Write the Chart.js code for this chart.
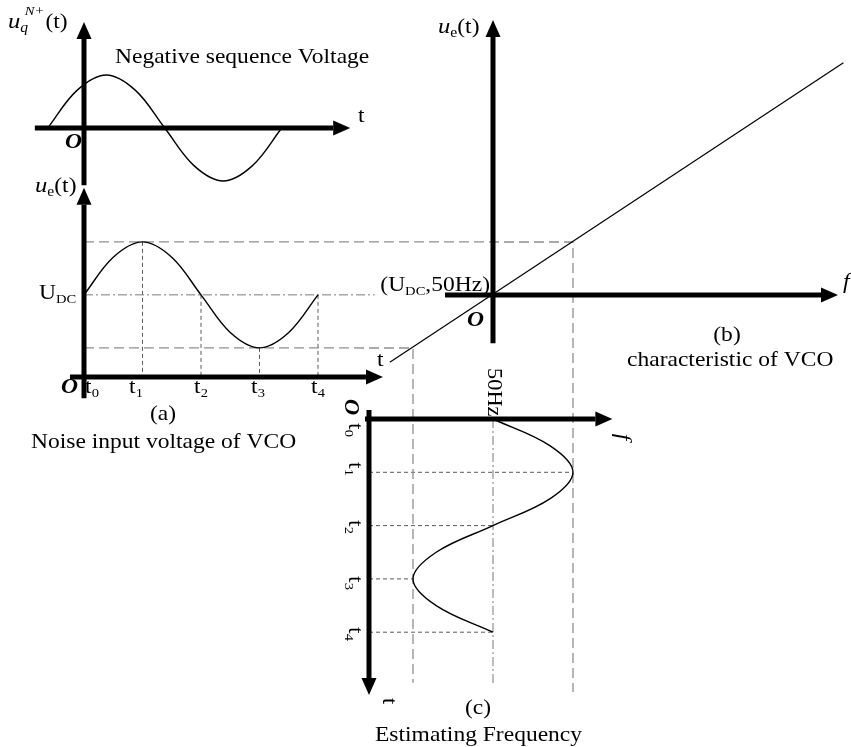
<!DOCTYPE html>
<html>
<head>
<meta charset="utf-8">
<script src="https://cdn.jsdelivr.net/npm/chart.js@4.4.0/dist/chart.umd.min.js"></script>
<style>
  html, body { margin: 0; padding: 0; background: #fff; }
</style>
</head>
<body>
<canvas id="vco" width="851" height="747"></canvas>
<script>
// --- valores ---
// tempo em quartos de período (t0..t4), tensão em unidades de amplitude
const tickNames = ['0', '1', '2', '3', '4'];
const tickTimes = [0, 1, 2, 3, 4];

// tensão de sequência negativa (painel superior)
const negSeqTime = [-0.62, -0.12, 0.38, 0.88, 1.38, 1.88, 2.38, 2.88, 3.38];
const negSeqVolt = [0, 0.71, 1, 0.71, 0, -0.71, -1, -0.71, 0];

// (a) tensão de ruído na entrada do VCO
const noiseTime = [0, 0.5, 1, 1.5, 2, 2.5, 3, 3.5, 4];
const noiseVolt = [1.55, 2.26, 2.55, 2.26, 1.55, 0.84, 0.55, 0.84, 1.55];
const uDC = 1.55;
const uMax = 2.55;
const uMin = 0.55;

// (b) característica do VCO (desvio de f x desvio de u)
const vcoFreq = [-1.29, 4.38];
const vcoVolt = [-1.27, 4.38];

// (c) frequência estimada
const estTime = [0, 0.5, 1, 1.5, 2, 2.5, 3, 3.5, 4];
const estFreq = [1.55, 2.26, 2.55, 2.26, 1.55, 0.84, 0.55, 0.84, 1.55];
const f50 = 1.55;

// --- layout de cada painel (origem e tamanho da unidade, em px) ---
const P = {
  top: { ox: 84,  oy: 128, ux: 58.5, uy: 53 },
  a:   { ox: 84,  oy: 377, ux: 58.5, uy: 53 },
  b:   { ox: 493, oy: 295, ux: 80,   uy: 53 },
  c:   { ox: 369, oy: 419, ux: 80,   uy: 53.3 }   // x = f, y = t (para baixo)
};
const xy = (p, h, v) => ({ x: P[p].ox + h * P[p].ux, y: P[p].oy - v * P[p].uy });
const tf = (t, f) => ({ x: P.c.ox + f * P.c.ux, y: P.c.oy + t * P.c.uy });

const SERIF = '"Liberation Serif", "DejaVu Serif", serif';
const GRAY_LONG = '#8f8f8f', GRAY_FINE = '#5a5a5a', GRAY_DOT = '#7a7a7a';

function line(pts, o) {
  return Object.assign({
    type: 'line', data: pts, borderColor: '#000', borderWidth: 1.4,
    pointRadius: 0, tension: 0, fill: false, clip: false, order: 1
  }, o);
}
function axis(pts) {
  return line(pts, { borderWidth: 5, arrow: true, order: 0 });
}
const dashLong = { borderColor: GRAY_LONG, borderWidth: 1.3, borderDash: [10, 5], order: 2 };
const dashFine = { borderColor: GRAY_FINE, borderWidth: 1, borderDash: [4, 3], order: 2 };
const dashDot  = { borderColor: GRAY_DOT, borderWidth: 1, borderDash: [9, 3, 2, 3], order: 2 };

const voltAt = t => noiseVolt[noiseTime.indexOf(t)];
const freqAt = t => estFreq[estTime.indexOf(t)];

const datasets = [
  // eixos (terminam na base da seta)
  axis([xy('top', -0.84, 0), xy('top', 4.26, 0)]),
  axis([xy('top', 0, -1.08), xy('top', 0, 1.68)]),
  axis([xy('a', -0.24, 0), xy('a', 4.82, 0)]),
  axis([xy('a', 0, -0.4), xy('a', 0, 3.25)]),
  axis([xy('b', -0.6, 0), xy('b', 4.1, 0)]),
  axis([xy('b', 0, -0.91), xy('b', 0, 4.87)]),
  axis([tf(-0.17, 0), tf(4.86, 0)]),
  axis([tf(0, -0.05), tf(0, 2.83)]),

  // curvas
  line(negSeqTime.map((t, i) => xy('top', t, negSeqVolt[i])), { tension: 0.36 }),
  line(noiseTime.map((t, i) => xy('a', t, noiseVolt[i])), { tension: 0.36 }),
  line(vcoFreq.map((f, i) => xy('b', f, vcoVolt[i])), { borderWidth: 1.2 }),
  line(estTime.map((t, i) => tf(t, estFreq[i])), { tension: 0.36 }),

  // linhas de projeção
  line([xy('a', 0, uMax), xy('b', uMax - uDC, uMax - uDC), tf(5.12, uMax)], dashLong),
  line([xy('a', 0, uMin), xy('b', uMin - uDC, uMin - uDC), tf(4.95, uMin)], dashLong),
  line([xy('a', 0, uDC), xy('a', 4.97, uDC)], dashDot),
  line([tf(0, f50), tf(4.96, f50)], dashDot)
];
tickTimes.slice(1).forEach(t => {
  datasets.push(line([xy('a', t, voltAt(t)), xy('a', t, 0)], dashFine));
  datasets.push(line([tf(t, 0), tf(t, freqAt(t))], dashFine));
});

// --- textos ---
const R = s => s + 'px ' + SERIF;
const I = s => 'italic ' + s + 'px ' + SERIF;
const BI = s => 'bold italic ' + s + 'px ' + SERIF;
const tLabel = n => [['t', R(21)], [n, R(13), 4]];

const labels = [
  { x: 8, y: 28, parts: [['u', I(22)], ['q', I(14), 4], ['N+', I(13), -13, -3], ['(t)', R(21), 0, 1]] },
  { x: 115, y: 63, parts: [['Negative sequence Voltage', R(21)]] },
  { x: 358, y: 122, parts: [['t', R(21)]] },
  { x: 65, y: 148, parts: [['O', BI(21)]] },

  { x: 35, y: 192, parts: [['u', I(22)], ['e', R(14), 4], ['(t)', R(21)]] },
  { x: 39, y: 299, parts: [['U', R(21)], ['DC', R(13), 4]] },
  { x: 61, y: 393, parts: [['O', BI(21)]] },
  { x: 377, y: 366, parts: [['t', R(21)]] },
  { x: 163, y: 420, align: 'center', parts: [['(a)', R(21)]] },
  { x: 31, y: 448, parts: [['Noise input voltage of VCO', R(21)]] },

  { x: 438, y: 33, parts: [['u', I(22)], ['e', R(14), 4], ['(t)', R(21)]] },
  { x: 490, y: 291, align: 'right', parts: [['(U', R(21)], ['DC', R(13), 4], [',50Hz)', R(21)]] },
  { x: 467, y: 326, parts: [['O', BI(21)]] },
  { x: 843, y: 288, parts: [['f', I(21)]] },
  { x: 727, y: 341, align: 'center', parts: [['(b)', R(21)]] },
  { x: 627, y: 366, parts: [['characteristic of VCO', R(21)]] },

  { x: 488, y: 368, rot: true, parts: [['50Hz', R(20)]] },
  { x: 345, y: 399, rot: true, parts: [['O', BI(20)]] },
  { x: 383, y: 701, rot: true, align: 'center', parts: [['t', R(20)]] },
  { x: 617, y: 437, rot: true, align: 'center', parts: [['f', I(21)]] },
  { x: 478, y: 714, align: 'center', parts: [['(c)', R(21)]] },
  { x: 375, y: 741, parts: [['Estimating Frequency', R(21)]] }
];
const aLabelX = [92, 136, 201, 258, 318];
const cLabelY = [430, 469, 527, 583, 634];
tickNames.forEach((n, i) => {
  labels.push({ x: aLabelX[i], y: 393, align: 'center', parts: tLabel(n) });
  labels.push({ x: 349, y: cLabelY[i], rot: true, align: 'center', parts: tLabel(n) });
});

const STRETCH = 1.12;

const arrowPlugin = {
  id: 'arrows',
  afterDatasetsDraw(chart) {
    const ctx = chart.ctx;
    chart.data.datasets.forEach((ds, i) => {
      if (!ds.arrow) return;
      const pts = chart.getDatasetMeta(i).data;
      const p0 = pts[pts.length - 2], p1 = pts[pts.length - 1];
      const dx = p1.x - p0.x, dy = p1.y - p0.y, len = Math.hypot(dx, dy);
      const ux = dx / len, uy = dy / len, L = 17, W = 7.5;
      ctx.save();
      ctx.fillStyle = '#000';
      ctx.beginPath();
      ctx.moveTo(p1.x + ux * L, p1.y + uy * L);
      ctx.lineTo(p1.x - uy * W, p1.y + ux * W);
      ctx.lineTo(p1.x + uy * W, p1.y - ux * W);
      ctx.closePath();
      ctx.fill();
      ctx.restore();
    });
  }
};

const textPlugin = {
  id: 'texts',
  afterDraw(chart) {
    const ctx = chart.ctx;
    labels.forEach(lb => {
      ctx.save();
      ctx.translate(lb.x, lb.y);
      if (lb.rot) ctx.rotate(Math.PI / 2);
      ctx.scale(STRETCH, 1);
      ctx.fillStyle = '#000';
      ctx.textBaseline = 'alphabetic';
      let w = 0;
      lb.parts.forEach(p => { ctx.font = p[1]; w += ctx.measureText(p[0]).width + (p[3] || 0); });
      let x = lb.align === 'center' ? -w / 2 : lb.align === 'right' ? -w : 0;
      lb.parts.forEach(p => {
        ctx.font = p[1];
        x += p[3] || 0;
        ctx.fillText(p[0], x, p[2] || 0);
        x += ctx.measureText(p[0]).width;
      });
      ctx.restore();
    });
  }
};

new Chart(document.getElementById('vco').getContext('2d'), {
  type: 'line',
  data: { datasets },
  options: {
    responsive: false,
    animation: false,
    events: [],
    layout: { padding: 0 },
    plugins: { legend: { display: false }, tooltip: { enabled: false } },
    scales: {
      x: { type: 'linear', min: 0, max: 851, display: false },
      y: { type: 'linear', min: 0, max: 747, reverse: true, display: false }
    }
  },
  plugins: [arrowPlugin, textPlugin]
});
</script>
</body>
</html>
